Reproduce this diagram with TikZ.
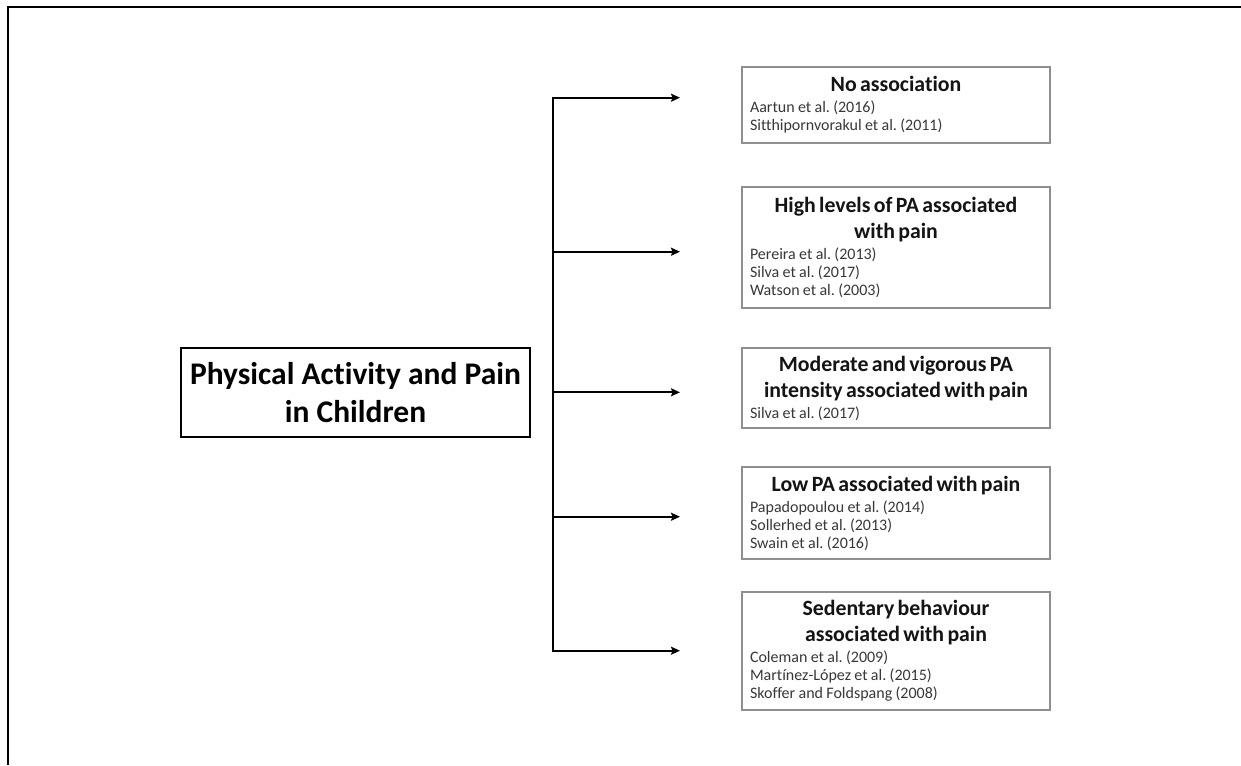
\documentclass[tikz,border=0pt]{standalone}
\usepackage{fontspec}
\setmainfont{Carlito}[Ligatures=NoCommon]
\usetikzlibrary{arrows.meta}
\frenchspacing

\definecolor{boxgray}{HTML}{8F8F8F}
\definecolor{reftext}{HTML}{383838}
\definecolor{headtext}{HTML}{141414}

\newcommand\headfont{\fontsize{21.8}{26}\selectfont\bfseries}
\newcommand\reffont{\fontsize{16}{18}\selectfont}
% heading (centred) followed by the list of studies (flush left)
\newcommand\finding[2]{%
  {\headfont\color{headtext}\centering #1\par}\vspace{3pt}%
  {\reffont\color{reftext}\raggedright #2\par}}

\tikzset{
  frame/.style={line width=2.5pt, black},
  rootbox/.style={draw=black, line width=1.6pt, minimum width=349pt,
    minimum height=89pt, inner sep=0pt, align=center, text=black,
    font=\fontsize{31.5}{37.5}\selectfont\bfseries},
  findingbox/.style={draw=boxgray, line width=1.3pt, minimum width=308pt,
    inner xsep=8pt, inner ysep=0pt, text width=292pt},
  trunk/.style={line width=2pt, black, line cap=rect},
  branch/.style={line width=2pt, black, -{Stealth[length=9pt,width=8pt,inset=1.5pt]}}
}

\begin{document}
\begin{tikzpicture}[x=1pt, y=-1pt]
  \useasboundingbox[fill=white] (0,0) rectangle (1241,765);

  % outer frame (top and left edges)
  \draw[frame] (1241,7) -- (8,7) -- (8,765);

  % central topic
  \node[rootbox] (root) at (355.5,392.5) {Physical Activity and Pain\\in Children};

  % findings
  \node[findingbox, minimum height=76pt] (f1) at (896,105)
    {\finding{No association}{Aartun et al. (2016)\\Sitthipornvorakul et al. (2011)}};
  \node[findingbox, minimum height=121pt] (f2) at (896,247.5)
    {\finding{High levels of PA associated\\with pain}{Pereira et al. (2013)\\Silva et al. (2017)\\Watson et al. (2003)}};
  \node[findingbox, minimum height=80pt] (f3) at (896,388)
    {\finding{Moderate and vigorous PA\\intensity associated with pain}{Silva et al. (2017)}};
  \node[findingbox, minimum height=92pt] (f4) at (896,513)
    {\finding{Low PA associated with pain}{Papadopoulou et al. (2014)\\Sollerhed et al. (2013)\\Swain et al. (2016)}};
  \node[findingbox, minimum height=118pt] (f5) at (896,651)
    {\finding{Sedentary behaviour\\associated with pain}{Coleman et al. (2009)\\Martínez-López et al. (2015)\\Skoffer and Foldspang (2008)}};

  % branching connector
  \coordinate (t1) at (553,97.7);
  \coordinate (t2) at (553,251.7);
  \coordinate (t3) at (553,392.3);
  \coordinate (t4) at (553,516.7);
  \coordinate (t5) at (553,650.7);
  \coordinate (e1) at (680,97.7);
  \coordinate (e2) at (680,251.7);
  \coordinate (e3) at (680,392.3);
  \coordinate (e4) at (680,516.7);
  \coordinate (e5) at (680,650.7);

  \draw[trunk] (t1) -- (t5);
  \foreach \i in {1,...,5} \draw[branch] (t\i) -- (e\i);
\end{tikzpicture}
\end{document}
